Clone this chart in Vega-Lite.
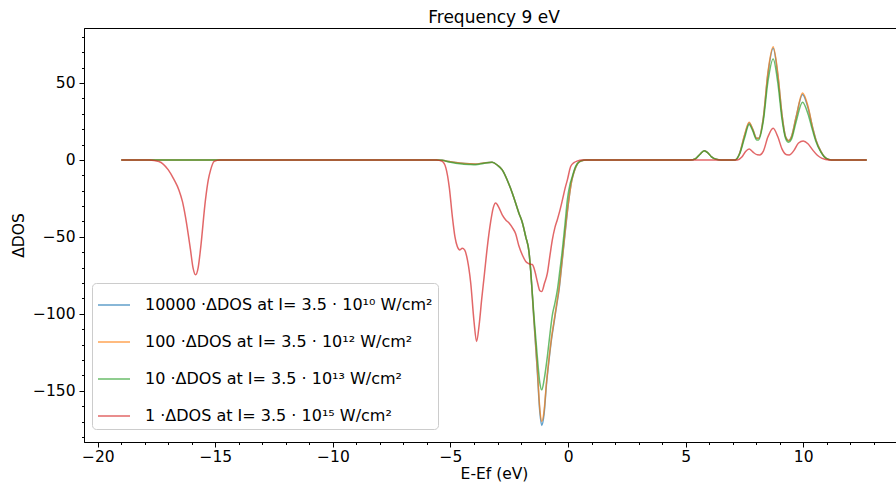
{
 "$schema": "https://vega.github.io/schema/vega-lite/v6.json",
 "width": 820, "height": 414,
 "autosize": {"type": "none"},
 "padding": {"left": 84, "top": 28, "right": 0, "bottom": 42},
 "background": "white",
 "title": {"text": "Frequency 9 eV", "fontSize": 17, "fontWeight": "normal", "font": "DejaVu Sans", "color": "black", "anchor": "middle", "offset": 1},
 "config": {
  "view": {"stroke": "black", "strokeWidth": 1},
  "axis": {"labelFont": "DejaVu Sans", "labelFontSize": 15.5, "labelColor": "black", "titleFont": "DejaVu Sans", "titleFontSize": 15.5, "titleFontWeight": "normal", "titleColor": "black", "tickColor": "black", "domainColor": "black", "tickSize": 5, "grid": false}
 },
 "data": {"values": [
  {"s":"a","x":-19,"y":0},{"s":"a","x":-5.6,"y":0},{"s":"a","x":-5.36,"y":-0.3},{"s":"a","x":-5.0,"y":-1.2},{"s":"a","x":-4.6,"y":-2},{"s":"a","x":-4.2,"y":-2.5},{"s":"a","x":-3.93,"y":-2.6},{"s":"a","x":-3.6,"y":-2},{"s":"a","x":-3.23,"y":-1.5},{"s":"a","x":-3.0,"y":-3.5},{"s":"a","x":-2.8,"y":-6.5},{"s":"a","x":-2.51,"y":-16},{"s":"a","x":-2.37,"y":-21.6},{"s":"a","x":-2.09,"y":-34.6},{"s":"a","x":-1.94,"y":-41},{"s":"a","x":-1.8,"y":-50},{"s":"a","x":-1.66,"y":-60},{"s":"a","x":-1.59,"y":-72},{"s":"a","x":-1.45,"y":-105},{"s":"a","x":-1.31,"y":-137},{"s":"a","x":-1.2,"y":-164},{"s":"a","x":-1.12,"y":-172.5},{"s":"a","x":-1.02,"y":-165},{"s":"a","x":-0.92,"y":-146},{"s":"a","x":-0.81,"y":-130},{"s":"a","x":-0.7,"y":-116},{"s":"a","x":-0.6,"y":-106},{"s":"a","x":-0.49,"y":-95},{"s":"a","x":-0.38,"y":-84},{"s":"a","x":-0.28,"y":-70},{"s":"a","x":-0.17,"y":-54},{"s":"a","x":-0.06,"y":-38},{"s":"a","x":0.04,"y":-25},{"s":"a","x":0.15,"y":-14},{"s":"a","x":0.26,"y":-7.5},{"s":"a","x":0.4,"y":-2.6},{"s":"a","x":0.54,"y":-0.8},{"s":"a","x":0.8,"y":0},{"s":"a","x":5.2,"y":0},{"s":"a","x":5.4,"y":0.6},{"s":"a","x":5.6,"y":3.5},{"s":"a","x":5.79,"y":6},{"s":"a","x":5.95,"y":4.5},{"s":"a","x":6.1,"y":2},{"s":"a","x":6.3,"y":0.4},{"s":"a","x":6.5,"y":0},{"s":"a","x":7.1,"y":0},{"s":"a","x":7.3,"y":4.5},{"s":"a","x":7.5,"y":15.5},{"s":"a","x":7.7,"y":24},{"s":"a","x":7.85,"y":20},{"s":"a","x":8.02,"y":14},{"s":"a","x":8.1,"y":14},{"s":"a","x":8.3,"y":27},{"s":"a","x":8.5,"y":56},{"s":"a","x":8.72,"y":72.5},{"s":"a","x":8.92,"y":55},{"s":"a","x":9.1,"y":29},{"s":"a","x":9.25,"y":15},{"s":"a","x":9.38,"y":12.5},{"s":"a","x":9.5,"y":15},{"s":"a","x":9.7,"y":28},{"s":"a","x":9.97,"y":42.5},{"s":"a","x":10.2,"y":34},{"s":"a","x":10.4,"y":21},{"s":"a","x":10.54,"y":13},{"s":"a","x":10.75,"y":5.5},{"s":"a","x":10.96,"y":1.2},{"s":"a","x":11.2,"y":0},{"s":"a","x":12.7,"y":0},

  {"s":"b","x":-19,"y":0},{"s":"b","x":-5.6,"y":0},{"s":"b","x":-5.36,"y":-0.3},{"s":"b","x":-5.0,"y":-1.2},{"s":"b","x":-4.6,"y":-2},{"s":"b","x":-4.2,"y":-2.5},{"s":"b","x":-3.93,"y":-2.6},{"s":"b","x":-3.6,"y":-2},{"s":"b","x":-3.23,"y":-1.5},{"s":"b","x":-3.0,"y":-3.5},{"s":"b","x":-2.8,"y":-6.5},{"s":"b","x":-2.51,"y":-16},{"s":"b","x":-2.37,"y":-21.6},{"s":"b","x":-2.09,"y":-34.6},{"s":"b","x":-1.94,"y":-41},{"s":"b","x":-1.8,"y":-50},{"s":"b","x":-1.66,"y":-60},{"s":"b","x":-1.59,"y":-72},{"s":"b","x":-1.45,"y":-104},{"s":"b","x":-1.31,"y":-135},{"s":"b","x":-1.2,"y":-162},{"s":"b","x":-1.12,"y":-170},{"s":"b","x":-1.02,"y":-163},{"s":"b","x":-0.92,"y":-145},{"s":"b","x":-0.81,"y":-129},{"s":"b","x":-0.7,"y":-115},{"s":"b","x":-0.6,"y":-105},{"s":"b","x":-0.49,"y":-94},{"s":"b","x":-0.38,"y":-83},{"s":"b","x":-0.28,"y":-69},{"s":"b","x":-0.17,"y":-53},{"s":"b","x":-0.06,"y":-37},{"s":"b","x":0.04,"y":-25},{"s":"b","x":0.15,"y":-14},{"s":"b","x":0.26,"y":-7.5},{"s":"b","x":0.4,"y":-2.6},{"s":"b","x":0.54,"y":-0.8},{"s":"b","x":0.8,"y":0},{"s":"b","x":5.2,"y":0},{"s":"b","x":5.4,"y":0.6},{"s":"b","x":5.6,"y":3.5},{"s":"b","x":5.79,"y":6},{"s":"b","x":5.95,"y":4.5},{"s":"b","x":6.1,"y":2},{"s":"b","x":6.3,"y":0.4},{"s":"b","x":6.5,"y":0},{"s":"b","x":7.1,"y":0},{"s":"b","x":7.3,"y":4.5},{"s":"b","x":7.5,"y":16},{"s":"b","x":7.7,"y":24.5},{"s":"b","x":7.85,"y":20},{"s":"b","x":8.02,"y":14},{"s":"b","x":8.1,"y":14},{"s":"b","x":8.3,"y":27},{"s":"b","x":8.5,"y":57},{"s":"b","x":8.72,"y":73.5},{"s":"b","x":8.92,"y":56},{"s":"b","x":9.1,"y":29},{"s":"b","x":9.25,"y":15},{"s":"b","x":9.38,"y":12.5},{"s":"b","x":9.5,"y":15},{"s":"b","x":9.7,"y":28},{"s":"b","x":9.97,"y":43.5},{"s":"b","x":10.2,"y":35},{"s":"b","x":10.4,"y":21},{"s":"b","x":10.54,"y":13},{"s":"b","x":10.75,"y":5.5},{"s":"b","x":10.96,"y":1.2},{"s":"b","x":11.2,"y":0},{"s":"b","x":12.7,"y":0},

  {"s":"c","x":-19,"y":0},{"s":"c","x":-5.6,"y":0},{"s":"c","x":-5.36,"y":-0.3},{"s":"c","x":-5.0,"y":-1.5},{"s":"c","x":-4.6,"y":-2.5},{"s":"c","x":-4.2,"y":-3},{"s":"c","x":-3.93,"y":-3.2},{"s":"c","x":-3.6,"y":-2.3},{"s":"c","x":-3.23,"y":-1.6},{"s":"c","x":-3.0,"y":-3.5},{"s":"c","x":-2.8,"y":-6.5},{"s":"c","x":-2.51,"y":-16},{"s":"c","x":-2.37,"y":-21.6},{"s":"c","x":-2.09,"y":-34.6},{"s":"c","x":-1.94,"y":-41},{"s":"c","x":-1.8,"y":-50},{"s":"c","x":-1.66,"y":-60},{"s":"c","x":-1.59,"y":-72},{"s":"c","x":-1.45,"y":-101.7},{"s":"c","x":-1.31,"y":-127.7},{"s":"c","x":-1.2,"y":-145},{"s":"c","x":-1.12,"y":-149.4},{"s":"c","x":-1.02,"y":-143},{"s":"c","x":-0.88,"y":-127.7},{"s":"c","x":-0.77,"y":-113},{"s":"c","x":-0.67,"y":-101},{"s":"c","x":-0.56,"y":-93},{"s":"c","x":-0.46,"y":-85},{"s":"c","x":-0.35,"y":-72},{"s":"c","x":-0.24,"y":-58},{"s":"c","x":-0.12,"y":-40},{"s":"c","x":-0.03,"y":-26},{"s":"c","x":0.08,"y":-16},{"s":"c","x":0.18,"y":-10.8},{"s":"c","x":0.3,"y":-5},{"s":"c","x":0.4,"y":-2.2},{"s":"c","x":0.55,"y":-0.6},{"s":"c","x":0.75,"y":0},{"s":"c","x":5.2,"y":0},{"s":"c","x":5.4,"y":0.6},{"s":"c","x":5.6,"y":3.5},{"s":"c","x":5.79,"y":6},{"s":"c","x":5.95,"y":4.5},{"s":"c","x":6.1,"y":2},{"s":"c","x":6.3,"y":0.4},{"s":"c","x":6.5,"y":0},{"s":"c","x":7.1,"y":0},{"s":"c","x":7.3,"y":4},{"s":"c","x":7.5,"y":14},{"s":"c","x":7.7,"y":23},{"s":"c","x":7.85,"y":19},{"s":"c","x":8.02,"y":13},{"s":"c","x":8.1,"y":13},{"s":"c","x":8.3,"y":25},{"s":"c","x":8.5,"y":51},{"s":"c","x":8.72,"y":65.5},{"s":"c","x":8.92,"y":50},{"s":"c","x":9.1,"y":26},{"s":"c","x":9.25,"y":14},{"s":"c","x":9.38,"y":11.5},{"s":"c","x":9.5,"y":13.5},{"s":"c","x":9.7,"y":25},{"s":"c","x":9.97,"y":37.5},{"s":"c","x":10.2,"y":30},{"s":"c","x":10.4,"y":19},{"s":"c","x":10.54,"y":12},{"s":"c","x":10.75,"y":5},{"s":"c","x":10.96,"y":1.1},{"s":"c","x":11.2,"y":0},{"s":"c","x":12.7,"y":0},

  {"s":"d","x":-19,"y":0},{"s":"d","x":-17.8,"y":0},{"s":"d","x":-17.4,"y":-1},{"s":"d","x":-17.0,"y":-6.5},{"s":"d","x":-16.75,"y":-13},{"s":"d","x":-16.55,"y":-19.5},{"s":"d","x":-16.4,"y":-27},{"s":"d","x":-16.27,"y":-37},{"s":"d","x":-16.06,"y":-58},{"s":"d","x":-15.95,"y":-70},{"s":"d","x":-15.84,"y":-74.7},{"s":"d","x":-15.73,"y":-70},{"s":"d","x":-15.63,"y":-58},{"s":"d","x":-15.42,"y":-26},{"s":"d","x":-15.3,"y":-13},{"s":"d","x":-15.2,"y":-6.5},{"s":"d","x":-15.05,"y":-1},{"s":"d","x":-14.8,"y":0},
  {"s":"d","x":-5.6,"y":0},{"s":"d","x":-5.35,"y":-1},{"s":"d","x":-5.2,"y":-5},{"s":"d","x":-5.05,"y":-18},{"s":"d","x":-4.92,"y":-37},{"s":"d","x":-4.81,"y":-50},{"s":"d","x":-4.71,"y":-56.3},{"s":"d","x":-4.6,"y":-58.5},{"s":"d","x":-4.5,"y":-57.4},{"s":"d","x":-4.4,"y":-58.5},{"s":"d","x":-4.28,"y":-65},{"s":"d","x":-4.14,"y":-80},{"s":"d","x":-4.0,"y":-105},{"s":"d","x":-3.89,"y":-118},{"s":"d","x":-3.78,"y":-107},{"s":"d","x":-3.67,"y":-90},{"s":"d","x":-3.57,"y":-76},{"s":"d","x":-3.43,"y":-56},{"s":"d","x":-3.29,"y":-40},{"s":"d","x":-3.18,"y":-31},{"s":"d","x":-3.08,"y":-28},{"s":"d","x":-2.94,"y":-31},{"s":"d","x":-2.8,"y":-35.7},{"s":"d","x":-2.65,"y":-39},{"s":"d","x":-2.51,"y":-41},{"s":"d","x":-2.37,"y":-44},{"s":"d","x":-2.23,"y":-48},{"s":"d","x":-2.09,"y":-56},{"s":"d","x":-1.94,"y":-62},{"s":"d","x":-1.8,"y":-66},{"s":"d","x":-1.66,"y":-67.5},{"s":"d","x":-1.52,"y":-68},{"s":"d","x":-1.4,"y":-73},{"s":"d","x":-1.31,"y":-79},{"s":"d","x":-1.2,"y":-85},{"s":"d","x":-1.12,"y":-85.5},{"s":"d","x":-1.0,"y":-80},{"s":"d","x":-0.88,"y":-73.6},{"s":"d","x":-0.77,"y":-62},{"s":"d","x":-0.67,"y":-52},{"s":"d","x":-0.56,"y":-44},{"s":"d","x":-0.46,"y":-39},{"s":"d","x":-0.35,"y":-33},{"s":"d","x":-0.24,"y":-26},{"s":"d","x":-0.12,"y":-18},{"s":"d","x":-0.03,"y":-13},{"s":"d","x":0.11,"y":-4.3},{"s":"d","x":0.25,"y":-1.8},{"s":"d","x":0.38,"y":-0.8},{"s":"d","x":0.6,"y":0},{"s":"d","x":7.2,"y":0},{"s":"d","x":7.4,"y":2},{"s":"d","x":7.55,"y":5.5},{"s":"d","x":7.7,"y":7.1},{"s":"d","x":7.85,"y":5.2},{"s":"d","x":8.05,"y":3.3},{"s":"d","x":8.15,"y":3.2},{"s":"d","x":8.3,"y":5.5},{"s":"d","x":8.5,"y":15},{"s":"d","x":8.72,"y":20.6},{"s":"d","x":8.92,"y":15},{"s":"d","x":9.1,"y":7},{"s":"d","x":9.3,"y":3.3},{"s":"d","x":9.4,"y":3.2},{"s":"d","x":9.6,"y":6},{"s":"d","x":9.8,"y":11},{"s":"d","x":10.0,"y":12.3},{"s":"d","x":10.2,"y":10.5},{"s":"d","x":10.4,"y":6.5},{"s":"d","x":10.6,"y":3},{"s":"d","x":10.8,"y":1},{"s":"d","x":11.1,"y":0},{"s":"d","x":12.7,"y":0}
 ]},
 "layer": [
  {
   "mark": {"type": "line", "strokeWidth": 1.5, "opacity": 0.7, "interpolate": "monotone"},
   "encoding": {
    "x": {"field": "x", "type": "quantitative", "scale": {"domain": [-20.585, 14.285], "nice": false, "zero": false},
          "axis": {"values": [-20, -15, -10, -5, 0, 5, 10], "title": "E-Ef (eV)", "labelPadding": 2, "titlePadding": 2}},
    "y": {"field": "y", "type": "quantitative", "scale": {"domain": [-183.3, 85.7], "nice": false, "zero": false},
          "axis": {"values": [-150, -100, -50, 0, 50], "title": "ΔDOS", "labelPadding": 4, "titlePadding": 6}},
    "color": {"field": "s", "type": "nominal",
              "scale": {"domain": ["a", "b", "c", "d"], "range": ["#1f77b4", "#ff7f0e", "#2ca02c", "#d62728"]},
              "legend": {"orient": "none", "legendX": 8, "legendY": 255, "title": null,
                         "labelExpr": "datum.value === 'a' ? '10000 ·ΔDOS at I= 3.5 · 10¹⁰ W/cm²' : datum.value === 'b' ? '100 ·ΔDOS at I= 3.5 · 10¹² W/cm²' : datum.value === 'c' ? '10 ·ΔDOS at I= 3.5 · 10¹³ W/cm²' : '1 ·ΔDOS at I= 3.5 · 10¹⁵ W/cm²'",
                         "symbolType": "stroke", "symbolSize": 1024, "symbolStrokeWidth": 1.5, "symbolOpacity": 0.7,
                         "labelFont": "DejaVu Sans", "labelFontSize": 16, "labelColor": "black", "labelLimit": 400, "labelOffset": 14,
                         "fillColor": "white", "strokeColor": "#cccccc", "cornerRadius": 4, "padding": 5, "rowPadding": 12}}
   }
  },
  {
   "mark": {"type": "line", "opacity": 0},
   "encoding": {
    "x": {"field": "x", "type": "quantitative", "axis": {"orient": "bottom", "values": [-20,-19,-18,-17,-16,-15,-14,-13,-12,-11,-10,-9,-8,-7,-6,-5,-4,-3,-2,-1,0,1,2,3,4,5,6,7,8,9,10,11,12,13,14], "labels": false, "domain": false, "tickSize": 2.5, "title": null}},
    "y": {"field": "y", "type": "quantitative", "axis": {"orient": "left", "values": [-180,-170,-160,-150,-140,-130,-120,-110,-100,-90,-80,-70,-60,-50,-40,-30,-20,-10,0,10,20,30,40,50,60,70,80], "labels": false, "domain": false, "tickSize": 2.5, "title": null}}
   }
  }
 ],
 "resolve": {"axis": {"x": "independent", "y": "independent"}}
}
